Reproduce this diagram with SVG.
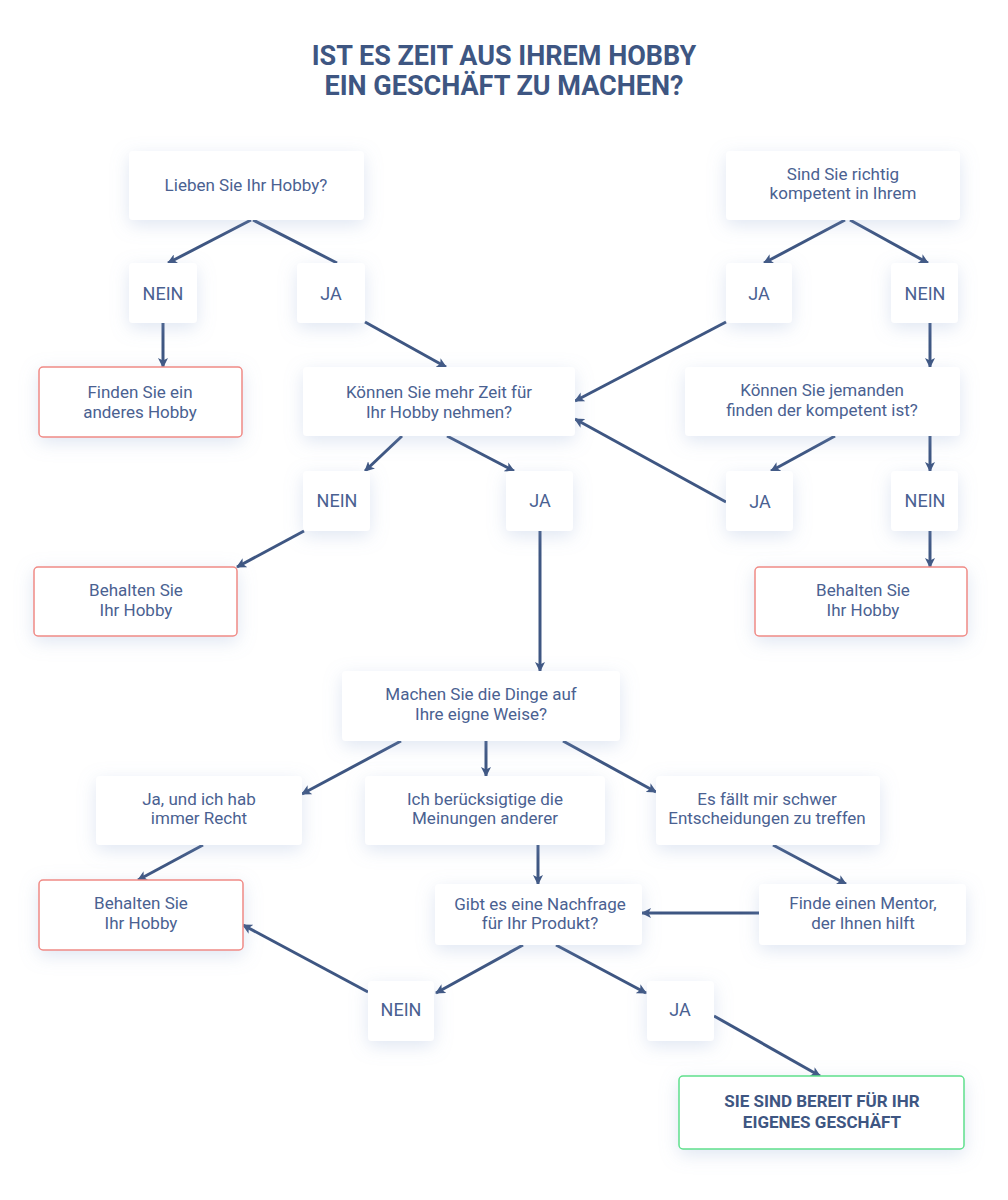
<svg xmlns="http://www.w3.org/2000/svg" width="1008" height="1200" viewBox="0 0 1008 1200">
<defs>
<filter id="sh" x="-30%" y="-40%" width="160%" height="190%">
<feDropShadow dx="0" dy="5" stdDeviation="9" flood-color="#8fa6d0" flood-opacity="0.28"/>
</filter>
<marker id="ah" viewBox="0 0 10 10" refX="9" refY="5" markerWidth="10" markerHeight="10" markerUnits="userSpaceOnUse" orient="auto">
<path d="M0,0 L10,5 L0,10 L2.5,5 z" fill="#3e5682"/>
</marker>
<style>
.b{fill:#ffffff;filter:url(#sh)}
.r{fill:#ffffff;stroke:#f08a85;stroke-width:1.5;filter:url(#sh)}
.g{fill:#ffffff;stroke:#5fe08c;stroke-width:1.5;filter:url(#sh)}
.t{font-family:Roboto,"Liberation Sans",sans-serif;font-size:17px;fill:#4a6191;text-anchor:middle}
.s{font-size:18px}
.tb{font-family:Roboto,"Liberation Sans",sans-serif;font-size:17px;font-weight:700;fill:#3e5682;text-anchor:middle}
.h{font-family:Roboto,"Liberation Sans",sans-serif;font-size:27px;font-weight:700;fill:#3e5682;text-anchor:middle}
.c line{stroke:#3e5682;stroke-width:3}
.c .a{marker-end:url(#ah)}
</style>
</defs>
<rect width="1008" height="1200" fill="#ffffff"/>
<g id="title">
<text class="h" x="504" y="65">IST ES ZEIT AUS IHREM HOBBY</text>
<text class="h" x="504" y="95">EIN GESCHÄFT ZU MACHEN?</text>
</g>
<g class="c" id="connectors">
<line class="a" x1="251" y1="220" x2="168" y2="263"/>
<line x1="253" y1="220" x2="337" y2="263"/>
<line class="a" x1="163" y1="323" x2="163" y2="367"/>
<line class="a" x1="365" y1="322" x2="446" y2="367"/>
<line class="a" x1="845" y1="220" x2="764" y2="263"/>
<line class="a" x1="850" y1="220" x2="928" y2="263"/>
<line class="a" x1="726" y1="322" x2="575" y2="401"/>
<line class="a" x1="930" y1="323" x2="930" y2="367"/>
<line class="a" x1="835" y1="436" x2="771" y2="471"/>
<line class="a" x1="726" y1="502" x2="575" y2="419"/>
<line class="a" x1="930" y1="436" x2="930" y2="471"/>
<line class="a" x1="930" y1="531" x2="930" y2="567"/>
<line class="a" x1="402" y1="436" x2="365" y2="471"/>
<line class="a" x1="447" y1="436" x2="514" y2="471"/>
<line class="a" x1="304" y1="531" x2="237" y2="567"/>
<line class="a" x1="540" y1="531" x2="540" y2="671"/>
<line class="a" x1="401" y1="741" x2="302" y2="794"/>
<line class="a" x1="486" y1="741" x2="486" y2="776"/>
<line class="a" x1="563" y1="741" x2="656" y2="792"/>
<line class="a" x1="203" y1="845" x2="138" y2="880"/>
<line class="a" x1="538" y1="845" x2="538" y2="884"/>
<line class="a" x1="773" y1="845" x2="846" y2="884"/>
<line class="a" x1="759" y1="913" x2="642" y2="913"/>
<line class="a" x1="523" y1="945" x2="436" y2="993"/>
<line class="a" x1="556" y1="945" x2="646" y2="993"/>
<line class="a" x1="368" y1="992" x2="243" y2="925"/>
<line class="a" x1="714" y1="1016" x2="820" y2="1076"/>
</g>
<g id="n1"><rect class="b" x="129" y="151" width="235" height="69" rx="4"/><text class="t" x="246" y="191">Lieben Sie Ihr Hobby?</text></g>
<g id="n2"><rect class="b" x="129" y="263" width="68" height="60" rx="4"/><text class="t s" x="163" y="300">NEIN</text></g>
<g id="n3"><rect class="b" x="297" y="263" width="68" height="60" rx="4"/><text class="t s" x="331" y="300">JA</text></g>
<g id="n4"><rect class="r" x="39" y="367" width="203" height="70" rx="4"/><text class="t" x="140" y="398">Finden Sie ein</text><text class="t" x="140" y="418">anderes Hobby</text></g>
<g id="n5"><rect class="b" x="303" y="367" width="272" height="69" rx="4"/><text class="t" x="439" y="398">Können Sie mehr Zeit für</text><text class="t" x="439" y="418">Ihr Hobby nehmen?</text></g>
<g id="n6"><rect class="b" x="726" y="151" width="234" height="69" rx="4"/><text class="t" x="843" y="180">Sind Sie richtig</text><text class="t" x="843" y="199">kompetent in Ihrem</text></g>
<g id="n7"><rect class="b" x="726" y="263" width="66" height="60" rx="4"/><text class="t s" x="759" y="300">JA</text></g>
<g id="n8"><rect class="b" x="891" y="263" width="67" height="60" rx="4"/><text class="t s" x="925" y="300">NEIN</text></g>
<g id="n9"><rect class="b" x="685" y="367" width="275" height="69" rx="4"/><text class="t" x="822" y="396">Können Sie jemanden</text><text class="t" x="822" y="416">finden der kompetent ist?</text></g>
<g id="n10"><rect class="b" x="303" y="471" width="67" height="60" rx="4"/><text class="t s" x="337" y="507">NEIN</text></g>
<g id="n11"><rect class="b" x="506" y="471" width="67" height="60" rx="4"/><text class="t s" x="540" y="507">JA</text></g>
<g id="n12"><rect class="b" x="726" y="471" width="67" height="60" rx="4"/><text class="t s" x="760" y="508">JA</text></g>
<g id="n13"><rect class="b" x="891" y="471" width="67" height="60" rx="4"/><text class="t s" x="925" y="507">NEIN</text></g>
<g id="n14"><rect class="r" x="34" y="567" width="203" height="69" rx="4"/><text class="t" x="136" y="596">Behalten Sie</text><text class="t" x="136" y="616">Ihr Hobby</text></g>
<g id="n15"><rect class="r" x="755" y="567" width="212" height="69" rx="4"/><text class="t" x="863" y="596">Behalten Sie</text><text class="t" x="863" y="616">Ihr Hobby</text></g>
<g id="n16"><rect class="b" x="342" y="671" width="278" height="70" rx="4"/><text class="t" x="481" y="700">Machen Sie die Dinge auf</text><text class="t" x="481" y="720">Ihre eigne Weise?</text></g>
<g id="n17"><rect class="b" x="96" y="776" width="206" height="69" rx="4"/><text class="t" x="199" y="805">Ja, und ich hab</text><text class="t" x="199" y="824">immer Recht</text></g>
<g id="n18"><rect class="b" x="365" y="776" width="240" height="69" rx="4"/><text class="t" x="485" y="805">Ich berücksigtige die</text><text class="t" x="485" y="824">Meinungen anderer</text></g>
<g id="n19"><rect class="b" x="656" y="776" width="224" height="69" rx="4"/><text class="t" x="767" y="805">Es fällt mir schwer</text><text class="t" x="767" y="824">Entscheidungen zu treffen</text></g>
<g id="n20"><rect class="r" x="39" y="880" width="204" height="70" rx="4"/><text class="t" x="141" y="909">Behalten Sie</text><text class="t" x="141" y="929">Ihr Hobby</text></g>
<g id="n21"><rect class="b" x="435" y="884" width="207" height="61" rx="4"/><text class="t" x="540" y="910">Gibt es eine Nachfrage</text><text class="t" x="540" y="929">für Ihr Produkt?</text></g>
<g id="n22"><rect class="b" x="759" y="884" width="207" height="61" rx="4"/><text class="t" x="863" y="909">Finde einen Mentor,</text><text class="t" x="863" y="929">der Ihnen hilft</text></g>
<g id="n23"><rect class="b" x="368" y="981" width="66" height="60" rx="4"/><text class="t s" x="401" y="1016">NEIN</text></g>
<g id="n24"><rect class="b" x="647" y="981" width="67" height="60" rx="4"/><text class="t s" x="680" y="1016">JA</text></g>
<g id="n25"><rect class="g" x="679" y="1076" width="285" height="73" rx="4"/><text class="tb" x="822" y="1107">SIE SIND BEREIT FÜR IHR</text><text class="tb" x="822" y="1128">EIGENES GESCHÄFT</text></g>
</svg>
